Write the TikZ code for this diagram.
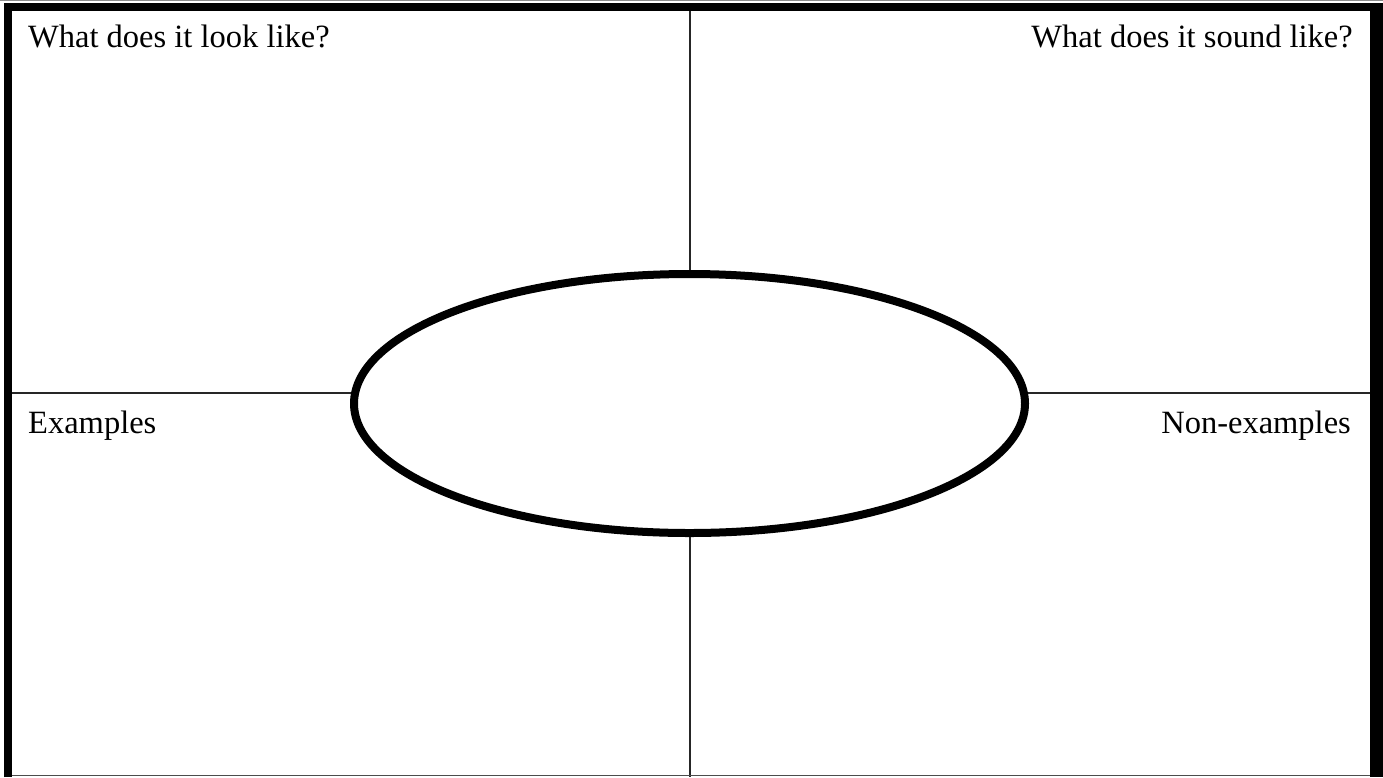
\documentclass[tikz,border=0pt]{standalone}
\usepackage{fontspec}
\setmainfont{Liberation Serif}
\usetikzlibrary{shapes.geometric}
\begin{document}
\begin{tikzpicture}[x=1pt,y=-1pt,
  thickframe/.style={line width=8pt,black},
  thinline/.style={line width=1.5pt,black!85},
  label/.style={inner sep=0pt,font=\fontsize{32.5}{38}\selectfont},
  centeroval/.style={ellipse,draw=black,line width=8pt,fill=white,minimum width=671pt,minimum height=259pt,inner sep=0pt}]
\useasboundingbox (0,0) rectangle (1383,777);
% frame corners
\coordinate (tl) at (8,7);
\coordinate (tr) at (1376.5,7);
\coordinate (bl) at (8,777);
\coordinate (br) at (1376.5,777);
\coordinate (blin) at (12,775.5);
\coordinate (brin) at (1370,775.5);
\coordinate (topl) at (0,0.5);
\coordinate (topr) at (1383,0.5);
% cross lines
\coordinate (vt) at (690,7);
\coordinate (vb) at (690,777);
\coordinate (hl) at (8,393);
\coordinate (hr) at (1376.5,393);
\draw[line width=1pt,black!45] (topl) -- (topr);
\draw[thinline] (vt) -- (vb);
\draw[thinline] (hl) -- (hr);
\draw[line width=1.5pt,black!70] (blin) -- (brin);
\draw[thickframe] (bl) -- (tl) -- (tr);
\draw[line width=13pt] (1376.5,3) -- (br);
\node[centeroval] (oval) at (689.5,403.5) {};
\node[label,anchor=base west] (look) at (28,47) {What does it look like?};
\node[label,anchor=base east] (sound) at (1353,47) {What does it sound like?};
\node[label,anchor=base west] (ex) at (28,433) {Examples};
\node[label,anchor=base east] (nonex) at (1351,433) {Non-examples};
\end{tikzpicture}
\end{document}
